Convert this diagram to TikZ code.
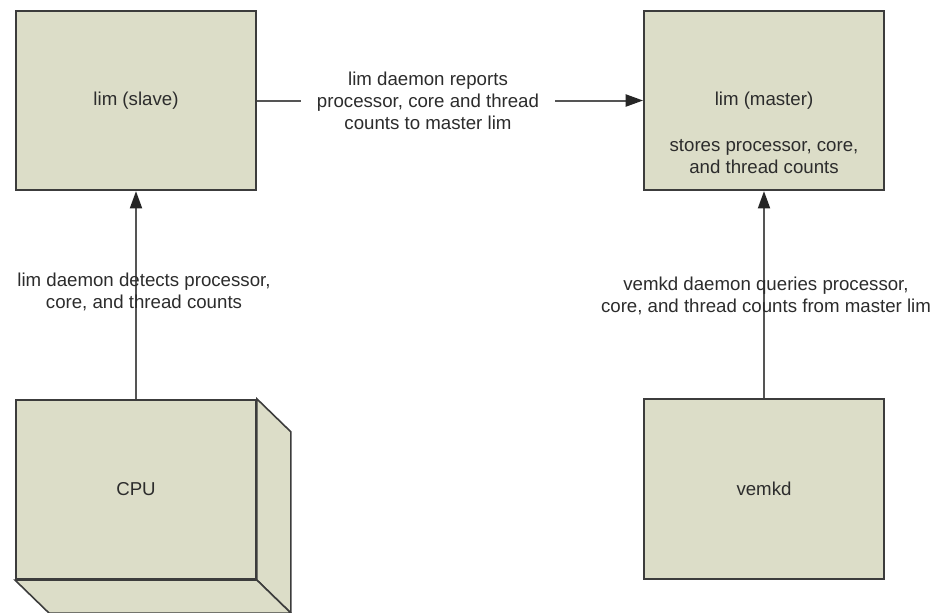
\documentclass[tikz,border=0pt]{standalone}
\usepackage{fontspec}
\setmainfont{Liberation Sans}
\usepackage{tikz}
\usetikzlibrary{positioning, arrows.meta}
\definecolor{boxfill}{HTML}{DCDDC8}
\definecolor{boxline}{HTML}{3C3C3C}
\definecolor{wire}{HTML}{555555}
\definecolor{ink}{HTML}{2C2C2C}

\begin{document}
\begin{tikzpicture}[x=0.75pt, y=-0.75pt,
  box/.style={draw=boxline, line width=1.4pt, fill=boxfill, minimum width=180pt,
    minimum height=134.5pt, inner sep=0pt, text=ink, font=\fontsize{14}{16.5}\selectfont},
  lbl/.style={text=ink, align=center, inner sep=2pt, font=\fontsize{14}{16.5}\selectfont},
  link/.style={draw=wire, line width=1.5pt, -{Triangle[length=13pt, width=9pt, color=black!85]}}]
\useasboundingbox (0,0) rectangle (945,612);

% the two lim hosts
\node[box] (slave) at (136,100.5) {lim (slave)};
\node[box] (master) at (764,100.5) {lim (master)};
\node[lbl] (masternote) at (764,157) {stores processor, core,\\and thread counts};

% cpu block, front face plus depth
\node[box] (cpu) at (136,489.5) {CPU};
\draw[boxline, line width=1.2pt, fill=boxfill] (cpu.north east) -- ([shift={(34,33)}]cpu.north east)
  -- ([shift={(34,33)}]cpu.south east) -- (cpu.south east) -- cycle;
\draw[boxline, line width=1.2pt, fill=boxfill] (cpu.south west) -- (cpu.south east)
  -- ([shift={(34,33)}]cpu.south east) -- ([shift={(34,33)}]cpu.south west) -- cycle;

% vemkd
\node[box] (vemkd) at (764,489) {vemkd};

% slave reports to master
\draw[link] (slave.east) -- (master.west);
\node[lbl, fill=white, inner xsep=12pt] (reportlbl) at (428,101)
  {lim daemon reports\\processor, core and thread\\counts to master lim};

% detection on the cpu
\draw[link] (cpu.north) -- (slave.south);
\node[lbl] (detectlbl) at (144,292) {lim daemon detects processor,\\core, and thread counts};

% vemkd queries the master
\draw[link] (vemkd.north) -- (master.south);
\node[lbl] (querylbl) at (766,296) {vemkd daemon queries processor,\\core, and thread counts from master lim};
\end{tikzpicture}
\end{document}
